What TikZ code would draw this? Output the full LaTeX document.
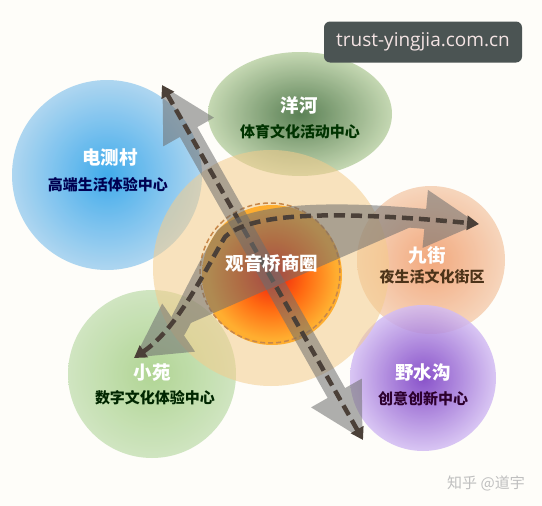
\documentclass[tikz,border=0pt]{standalone}
\usepackage{fontspec}
\setsansfont{Open Sans}
\newfontfamily\cjk{Noto Sans CJK SC}
\usetikzlibrary{arrows.meta}
\definecolor{bgcol}{HTML}{FEFDF9}
\definecolor{dianin}{HTML}{2DA3EA}
\definecolor{dianout}{HTML}{A6D2F0}
\definecolor{yangin}{HTML}{4A7444}
\definecolor{yangout}{HTML}{BFD4AB}
\definecolor{jiuin}{HTML}{F19A68}
\definecolor{jiuout}{HTML}{F5CFB2}
\definecolor{yein}{HTML}{7535C2}
\definecolor{yeout}{HTML}{D3BDF3}
\definecolor{xiaoin}{HTML}{A9D18A}
\definecolor{xiaoout}{HTML}{CBE3BB}
\definecolor{palecol}{HTML}{F4CC8C}
\definecolor{hubin}{HTML}{EE1C0C}
\definecolor{hubmid}{HTML}{FF6A12}
\definecolor{hubout}{HTML}{FFAE30}
\definecolor{hubrim}{HTML}{C8884A}
\definecolor{bandgray}{HTML}{6E6E6E}
\definecolor{dashdark}{HTML}{4B4038}
\definecolor{boxgray}{HTML}{4B5453}
\definecolor{boxtext}{HTML}{F3E3E3}
\pgfdeclareradialshading{hubshade}{\pgfpoint{0bp}{0bp}}{color(0bp)=(hubin); color(12bp)=(hubmid); color(23bp)=(hubout); color(25bp)=(hubout); color(50bp)=(hubout)}
\begin{document}
\begin{tikzpicture}[x=1pt,y=-1pt,
    title/.style={font=\cjk\bfseries\fontsize{18.5}{20}\selectfont,text=white},
    sub/.style={font=\cjk\bfseries\fontsize{15}{17}\selectfont},
    band/.style={line width=20pt,draw=bandgray,fill=bandgray,
        {Triangle[length=54pt,width=54pt]}-{Triangle[length=54pt,width=54pt]}},
    dashline/.style={line width=4.5pt,draw=dashdark,dash pattern=on 11pt off 6pt,
        {Triangle[length=12pt,width=14pt]}-{Triangle[length=12pt,width=14pt]}}]
    \useasboundingbox (0,0) rectangle (542,506);
    \fill[bgcol] (0,0) rectangle (542,506);
    %% Outer districts
    \shade[inner color=dianin,outer color=dianout,opacity=0.9] (107,175) ellipse [x radius=95pt,y radius=95pt];
    \shade[inner color=yangin,outer color=yangout,opacity=0.9] (300,114) ellipse [x radius=92pt,y radius=62pt];
    \shade[inner color=jiuin,outer color=jiuout,opacity=0.85] (431,260) circle [radius=74pt];
    \shade[inner color=yein,outer color=yeout,opacity=0.85] (423,378) circle [radius=73pt];
    \shade[inner color=xiaoin,outer color=xiaoout,opacity=0.9] (152,374) circle [radius=84pt];
    %% Core
    \fill[palecol,opacity=0.55] (271,268) circle [radius=118pt];
    \shade[shading=hubshade] (272,275) circle [radius=70pt];
    \draw[hubrim,line width=1.5pt,dash pattern=on 5pt off 3pt] (270,273) circle [radius=70pt];
    %% Axes
    \coordinate (nw) at (162,85);
    \coordinate (se) at (363,440);
    \coordinate (sw) at (134,358);
    \coordinate (bend) at (225,237);
    \coordinate (ea) at (479,224);
    \begin{scope}[transparency group,opacity=0.55]
        \draw[band] (nw) -- (se);
    \end{scope}
    \draw[dashline] (nw) -- (se);
    \begin{scope}[transparency group,opacity=0.55]
        \draw[band] (sw) .. controls (178,328) and (205,270) .. (bend) .. controls (250,213) and (330,210) .. (ea);
    \end{scope}
    \draw[dashline] (sw) .. controls (178,328) and (205,270) .. (bend) .. controls (250,213) and (330,210) .. (ea);
    %% Labels
    \node[title] (dian) at (110,157) {电测村};
    \node[sub,text=black!20!blue!40!black] (diansub) at (108,185) {高端生活体验中心};
    \node[title] (yang) at (299,105) {洋河};
    \node[sub,text=green!20!black] (yangsub) at (300,132) {体育文化活动中心};
    \node[title] (guan) at (272,263) {观音桥商圈};
    \node[title] (jiu) at (427,255) {九街};
    \node[sub,text=brown!40!black] (jiusub) at (432,277) {夜生活文化街区};
    \node[title] (ye) at (423,372) {野水沟};
    \node[sub,text=violet!35!black] (yesub) at (423,399) {创意创新中心};
    \node[title] (xiao) at (152,373) {小苑};
    \node[sub,text=green!15!black] (xiaosub) at (155,398) {数字文化体验中心};
    %% Marks
    \node[fill=boxgray,rounded corners=6pt,minimum width=198pt,minimum height=41pt,
        text=boxtext,font=\sffamily\fontsize{19}{20}\selectfont] (mark) at (423,42) {trust-yingjia.com.cn};
    \node[text=black!25,font=\cjk\fontsize{15}{16}\selectfont] (zhihu) at (486,483) {知乎 @道宇};
\end{tikzpicture}
\end{document}
